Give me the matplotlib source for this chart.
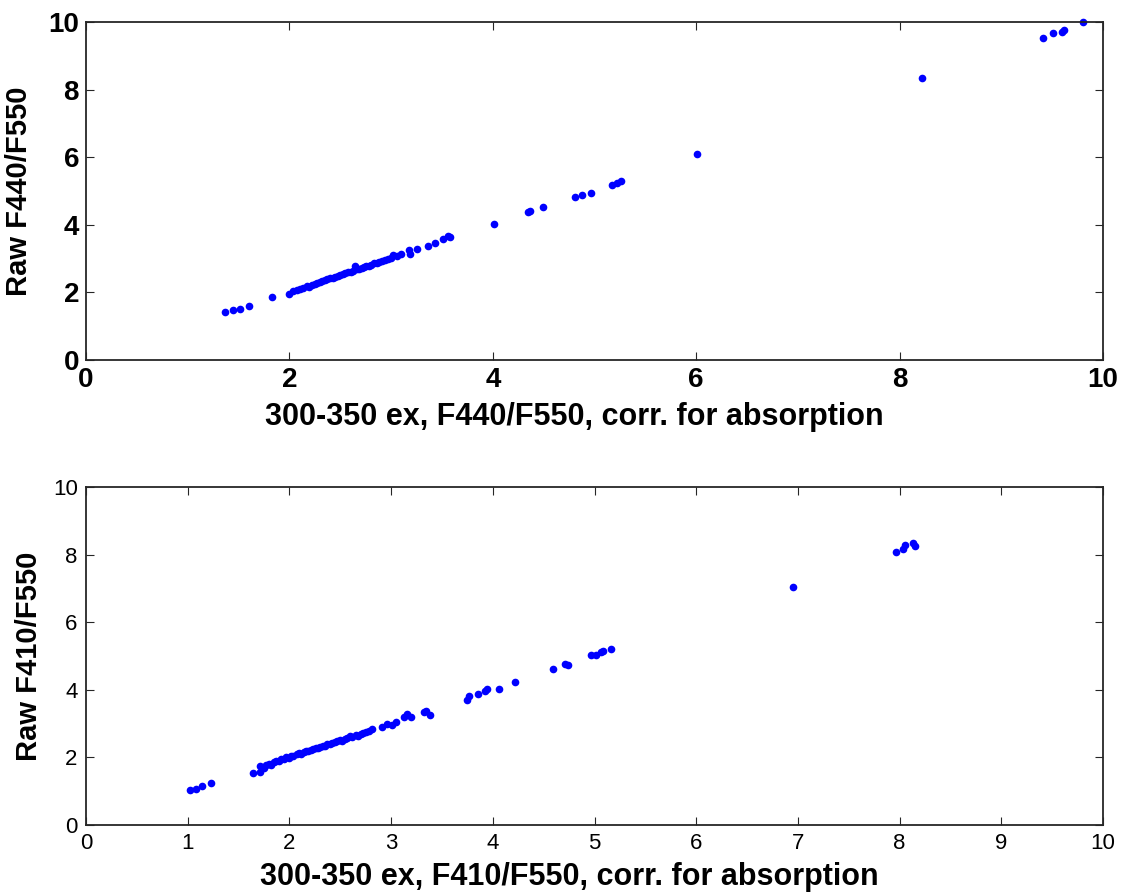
import matplotlib
matplotlib.use("Agg")
import matplotlib.pyplot as plt

plt.rcParams['font.family'] = ['Liberation Sans', 'DejaVu Sans']

# top panel: F440/F550
x440 = [1.37, 1.45, 1.51, 1.60, 1.83,
        2.00, 2.04, 2.07, 2.10, 2.13, 2.17, 2.19, 2.22, 2.25, 2.27,
        2.30, 2.32, 2.35, 2.37, 2.40, 2.43, 2.45, 2.48, 2.50, 2.53,
        2.55, 2.58, 2.61, 2.63, 2.64, 2.66, 2.68, 2.71, 2.73, 2.75,
        2.78, 2.80, 2.83, 2.86, 2.88, 2.91, 2.94, 2.97, 3.00, 3.02,
        3.06, 3.10, 3.18, 3.19, 3.25, 3.36, 3.43, 3.51, 3.56, 3.58,
        4.01, 4.35, 4.37, 4.49, 4.81, 4.88, 4.97, 5.17, 5.22, 5.26,
        6.01, 8.22, 9.41, 9.51, 9.60, 9.62, 9.80]
y440 = [1.41, 1.48, 1.50, 1.60, 1.86,
        1.95, 2.03, 2.08, 2.10, 2.12, 2.19, 2.16, 2.23, 2.26, 2.29,
        2.31, 2.33, 2.37, 2.39, 2.42, 2.44, 2.47, 2.48, 2.51, 2.54,
        2.56, 2.59, 2.60, 2.64, 2.78, 2.68, 2.70, 2.72, 2.74, 2.77,
        2.79, 2.81, 2.86, 2.87, 2.90, 2.93, 2.97, 2.99, 3.03, 3.11,
        3.09, 3.14, 3.25, 3.13, 3.27, 3.37, 3.45, 3.57, 3.67, 3.63,
        4.02, 4.37, 4.42, 4.53, 4.83, 4.89, 4.93, 5.19, 5.25, 5.30,
        6.10, 8.33, 9.54, 9.68, 9.71, 9.76, 10.00]

# bottom panel: F410/F550
x410 = [1.02, 1.08, 1.14, 1.23,
        1.64, 1.71, 1.71, 1.75, 1.77, 1.80, 1.82, 1.85, 1.87, 1.90,
        1.92, 1.95, 1.97, 2.00, 2.02, 2.04, 2.07, 2.09, 2.11, 2.14,
        2.16, 2.18, 2.21, 2.23, 2.26, 2.28, 2.30, 2.33, 2.35, 2.37,
        2.40, 2.42, 2.45, 2.47, 2.50, 2.52, 2.55, 2.57, 2.60, 2.62,
        2.65, 2.67, 2.70, 2.72, 2.75, 2.78, 2.81, 2.91, 2.96, 3.01,
        3.05, 3.13, 3.16, 3.20, 3.32, 3.34, 3.38, 3.75, 3.77, 3.85,
        3.92, 3.94, 4.06, 4.22, 4.59, 4.71, 4.74, 4.97, 5.01, 5.06,
        5.08, 5.16, 6.95, 7.96, 8.03, 8.05, 8.13, 8.15]
y410 = [1.03, 1.08, 1.14, 1.24,
        1.55, 1.56, 1.74, 1.68, 1.77, 1.80, 1.79, 1.85, 1.90, 1.88,
        1.94, 1.96, 2.02, 1.99, 2.04, 2.05, 2.09, 2.12, 2.11, 2.15,
        2.19, 2.18, 2.22, 2.24, 2.27, 2.28, 2.31, 2.33, 2.35, 2.40,
        2.39, 2.43, 2.45, 2.48, 2.51, 2.50, 2.54, 2.57, 2.62, 2.60,
        2.66, 2.64, 2.69, 2.72, 2.74, 2.78, 2.83, 2.91, 3.00, 2.96,
        3.06, 3.19, 3.28, 3.20, 3.35, 3.37, 3.25, 3.71, 3.83, 3.88,
        3.97, 4.01, 4.02, 4.23, 4.62, 4.77, 4.73, 5.04, 5.04, 5.11,
        5.15, 5.20, 7.05, 8.07, 8.16, 8.28, 8.33, 8.26]

fig = plt.figure(figsize=(11.26, 8.92), dpi=100)
ax1 = fig.add_axes([0.0764, 0.5964, 0.9032, 0.3789])
ax2 = fig.add_axes([0.0764, 0.0751, 0.9032, 0.3789])


def style(ax, tick_size, bold, pad):
    ax.set_xlim(0, 10)
    ax.set_ylim(0, 10)
    for s in ax.spines.values():
        s.set_linewidth(1.3)
        s.set_color('#262626')
    ax.tick_params(direction='in', length=6, width=0.8, top=True, right=True,
                   labelsize=tick_size, pad=pad, colors='#262626',
                   labelcolor='black')
    if bold:
        for lab in ax.get_xticklabels() + ax.get_yticklabels():
            lab.set_fontweight('bold')


ax1.plot(x440, y440, 'o', color='#0000ff', markersize=5.5, markeredgewidth=0,
         clip_on=False)
ax1.set_xticks(range(0, 11, 2))
ax1.set_yticks(range(0, 11, 2))
style(ax1, 20, True, 5)
ax1.set_xlabel('300-350 ex, F440/F550, corr. for absorption', fontsize=22,
               fontweight='bold')
ax1.set_ylabel('Raw F440/F550', fontsize=21, fontweight='bold')
ax1.xaxis.set_label_coords(0.48, -0.125)
ax1.yaxis.set_label_coords(-0.052, 0.5)

ax2.plot(x410, y410, 'o', color='#0000ff', markersize=5.5, markeredgewidth=0,
         clip_on=False)
ax2.set_xticks(range(0, 11, 1))
ax2.set_yticks(range(0, 11, 2))
style(ax2, 16, False, 6)
ax2.set_xlabel('300-350 ex, F410/F550, corr. for absorption', fontsize=22,
               fontweight='bold')
ax2.set_ylabel('Raw F410/F550', fontsize=21, fontweight='bold')
ax2.xaxis.set_label_coords(0.475, -0.108)
ax2.yaxis.set_label_coords(-0.042, 0.5)

fig.savefig('out.png', dpi=100)
